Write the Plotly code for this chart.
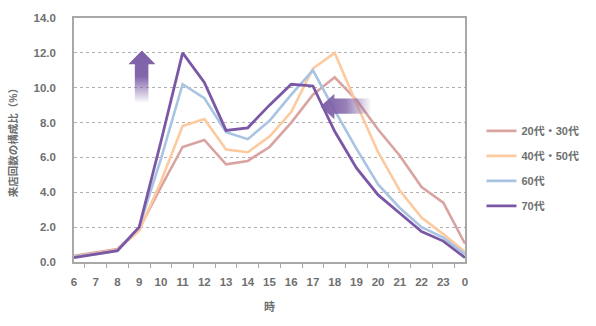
import base64
import plotly.graph_objects as go

# Hour of day (6 a.m. through midnight)
hours = ["6", "7", "8", "9", "10", "11", "12", "13", "14", "15",
         "16", "17", "18", "19", "20", "21", "22", "23", "0"]

# Share of store visits by hour, per age group (%)
age_20_30 = [0.35, 0.55, 0.75, 1.9, 4.3, 6.6, 7.0, 5.6, 5.8, 6.6,
             8.0, 9.6, 10.6, 9.3, 7.6, 6.1, 4.3, 3.4, 1.05]
age_40_50 = [0.3, 0.5, 0.7, 1.8, 4.6, 7.8, 8.2, 6.45, 6.3, 7.2,
             8.6, 11.1, 12.0, 9.1, 6.3, 4.1, 2.55, 1.6, 0.58]
age_60 = [0.3, 0.45, 0.65, 2.0, 5.9, 10.2, 9.4, 7.45, 7.05, 8.1,
          9.6, 11.0, 8.7, 6.5, 4.45, 3.1, 2.0, 1.4, 0.45]
age_70 = [0.25, 0.45, 0.65, 2.0, 6.9, 12.0, 10.3, 7.55, 7.7, 9.0,
          10.2, 10.1, 7.5, 5.4, 3.85, 2.8, 1.75, 1.2, 0.25]

series_names = ["20代・30代", "40代・50代", "60代", "70代"]
series_values = [age_20_30, age_40_50, age_60, age_70]
series_colors = ["#d9a3a1", "#fdca9f", "#a9c3e3", "#7b58a6"]
series_widths = [2.6, 2.6, 2.6, 2.8]

y_ticks = [0, 2, 4, 6, 8, 10, 12, 14]

font_family = "Liberation Sans, Arial, Noto Sans CJK JP, sans-serif"
text_grey = "#707070"

fig = go.Figure()
for i, (name, vals, color, w) in enumerate(zip(series_names, series_values,
                                               series_colors, series_widths)):
    fig.add_trace(go.Scatter(
        x=hours, y=vals, name=name, mode="lines",
        line=dict(color=color, width=w),
        legendgroup=f"g{i}",
    ))


def svg_uri(svg):
    return "data:image/svg+xml;base64," + base64.b64encode(svg.encode()).decode()


# Upward arrow with a vertical fade towards its tail
up_arrow = """<svg xmlns='http://www.w3.org/2000/svg' width='28' height='53' viewBox='0 0 28 53'>
<defs><linearGradient id='g' x1='0' y1='0' x2='0' y2='1'>
<stop offset='0' stop-color='#7d5fa6' stop-opacity='1'/>
<stop offset='0.5' stop-color='#7d5fa6' stop-opacity='0.95'/>
<stop offset='1' stop-color='#7d5fa6' stop-opacity='0.03'/>
</linearGradient></defs>
<polygon points='14,0 28,14 20.7,14 20.7,53 6.7,53 6.7,14 0,14' fill='url(#g)'/>
</svg>"""

# Leftward arrow with a horizontal fade towards its tail
left_arrow = """<svg xmlns='http://www.w3.org/2000/svg' width='52' height='26' viewBox='0 0 52 26'>
<defs><linearGradient id='g' x1='0' y1='0' x2='1' y2='0'>
<stop offset='0' stop-color='#7d5fa6' stop-opacity='1'/>
<stop offset='0.5' stop-color='#7d5fa6' stop-opacity='0.8'/>
<stop offset='1' stop-color='#7d5fa6' stop-opacity='0.03'/>
</linearGradient></defs>
<polygon points='0,13 14.4,0 14.4,4.7 52,4.7 52,20.3 14.4,20.3 14.4,26' fill='url(#g)'/>
</svg>"""

# plot area in pixels: x 74..477, y 14..262
PW, PH = 403.0, 248.0


def px_x(x):
    return (x - 74) / PW


def px_y(y):
    return (262 - y) / PH


fig.add_layout_image(dict(
    source=svg_uri(up_arrow), xref="paper", yref="paper",
    x=px_x(130), y=px_y(47), sizex=28 / PW, sizey=53 / PH,
    xanchor="left", yanchor="top", sizing="stretch", layer="above",
))
fig.add_layout_image(dict(
    source=svg_uri(left_arrow), xref="paper", yref="paper",
    x=px_x(328), y=px_y(91), sizex=52 / PW, sizey=26 / PH,
    xanchor="left", yanchor="top", sizing="stretch", layer="above",
))

fig.update_layout(
    width=596, height=326,
    margin=dict(l=74, r=119, t=14, b=64),
    paper_bgcolor="white", plot_bgcolor="white",
    font=dict(family=font_family, color=text_grey, size=11),
    showlegend=True,
    legend=dict(
        x=px_x(494), y=px_y(114), xanchor="left", yanchor="top",
        font=dict(size=11, color=text_grey, weight="bold"),
        tracegroupgap=6, bgcolor="rgba(0,0,0,0)",
    ),
    xaxis=dict(
        type="category", categoryorder="array", categoryarray=hours,
        showline=True, linecolor="#a8a8a8", linewidth=1.5, mirror=True,
        ticks="outside", ticklen=4, tickcolor="#a8a8a8", tickson="boundaries",
        tickangle=0,
        tickfont=dict(size=11.5, color=text_grey, weight="bold"),
        ticklabelstandoff=8,
        showgrid=False, zeroline=False,
        title=dict(text="時", font=dict(size=11, color=text_grey, weight="bold"),
                   standoff=17),
    ),
    yaxis=dict(
        range=[0, 14], tickvals=y_ticks, tickformat=".1f",
        showline=True, linecolor="#a8a8a8", linewidth=1.5, mirror=True,
        ticks="", ticklabelstandoff=14,
        tickfont=dict(size=11.5, color=text_grey, weight="bold"),
        showgrid=True, gridcolor="#b0b0b0", griddash="dot", gridwidth=1,
        zeroline=False,
        title=dict(text="来店回数の構成比（%）",
                   font=dict(size=10.5, color=text_grey, weight="bold"),
                   standoff=14),
    ),
)

fig.write_html("out.html")
